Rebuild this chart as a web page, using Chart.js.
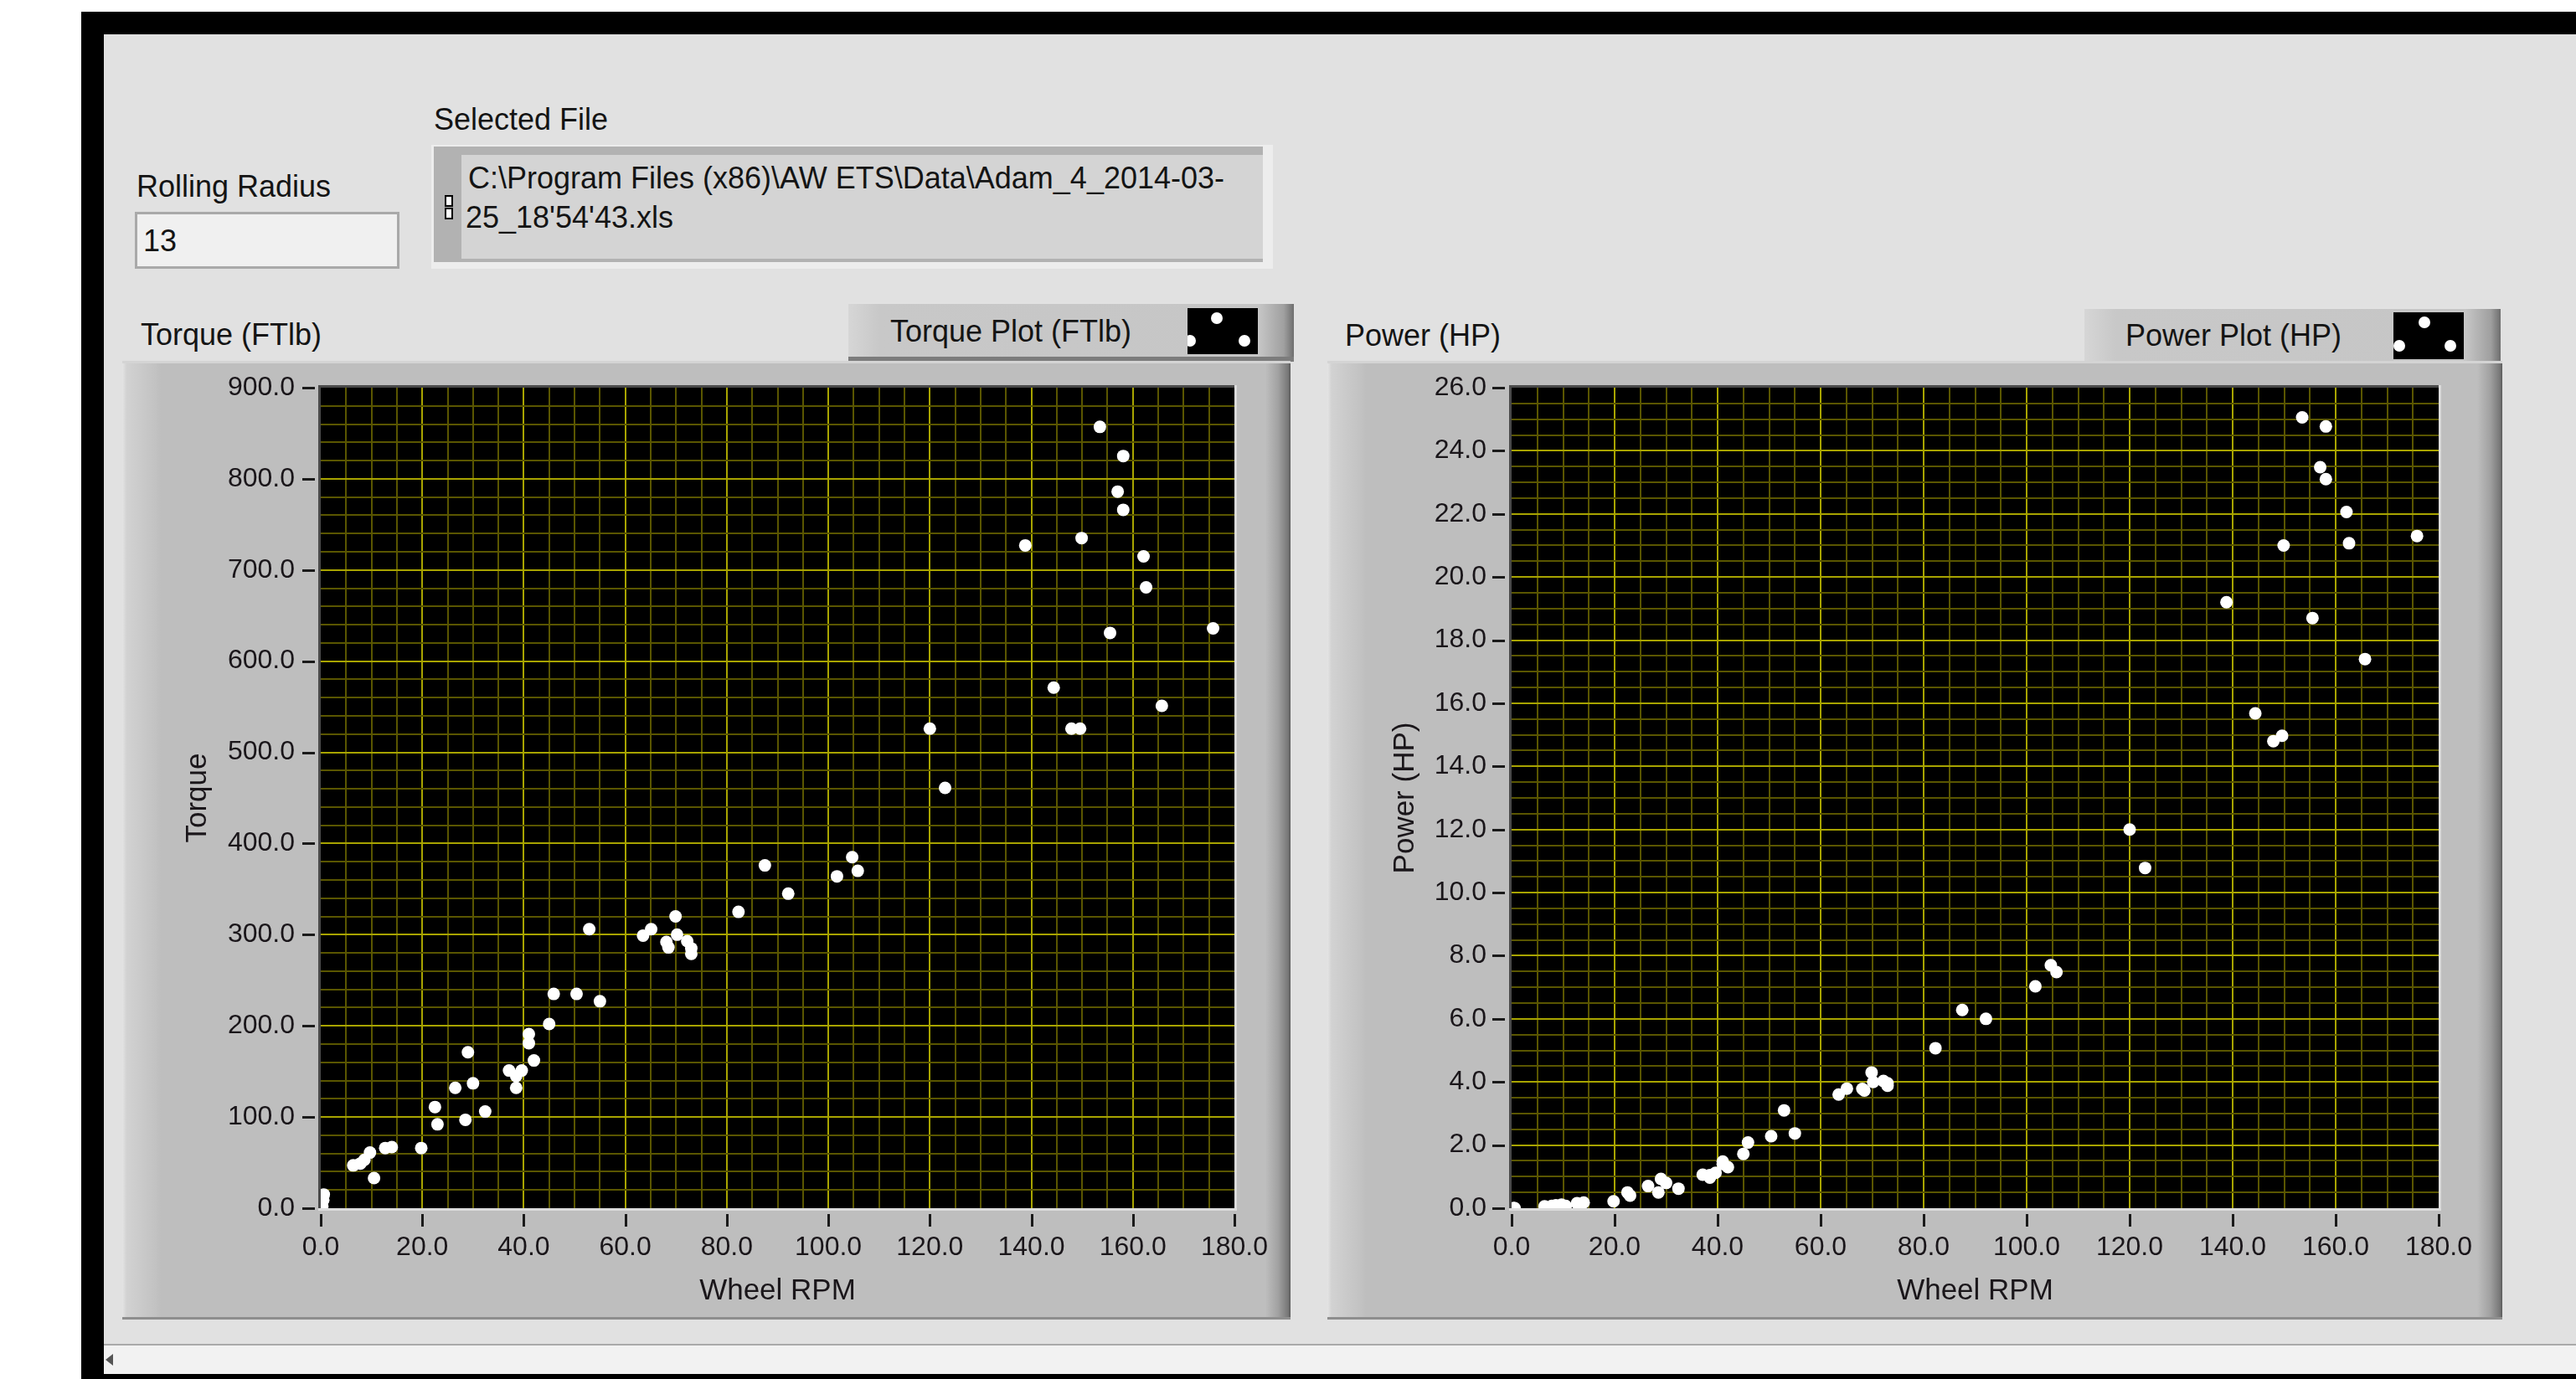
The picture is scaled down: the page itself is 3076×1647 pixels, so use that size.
<!DOCTYPE html>
<html><head><meta charset="utf-8">
<script src="https://cdn.jsdelivr.net/npm/chart.js@4.4.1/dist/chart.umd.min.js"></script>
<style>
html,body{margin:0;padding:0;}
body{width:3076px;height:1647px;position:relative;overflow:hidden;background:#fff;font-family:'Liberation Sans',Arial,sans-serif;color:#141414;}
.abs{position:absolute;}
.lbl{position:absolute;font-size:36px;line-height:36px;white-space:nowrap;}
.frame{position:absolute;box-sizing:border-box;}
.dot{position:absolute;width:14px;height:14px;border-radius:50%;background:#fff;}
</style></head><body>

<!-- window chrome -->
<div class="abs" style="left:97px;top:14px;width:2979px;height:27px;background:#000"></div>
<div class="abs" style="left:97px;top:14px;width:27px;height:1633px;background:#000"></div>
<div class="abs" style="left:124px;top:41px;width:2952px;height:1565px;background:#e1e1e1"></div>
<div class="abs" style="left:124px;top:1605px;width:2952px;height:36px;background:#f2f2f2;border-top:2px solid #a9a9a9;box-sizing:border-box"></div>
<div class="abs" style="left:126px;top:1617px;width:0;height:0;border-top:7px solid transparent;border-bottom:7px solid transparent;border-right:9px solid #555"></div>
<div class="abs" style="left:97px;top:1641px;width:2979px;height:6px;background:#000"></div>

<!-- Rolling radius control -->
<div class="lbl" style="left:163px;top:205px">Rolling Radius</div>
<div class="abs" style="left:161px;top:253px;width:316px;height:68px;background:#f0f0f0;border:3px solid #a9a9a9;box-sizing:border-box"></div>
<div class="lbl" style="left:171px;top:270px">13</div>

<!-- Selected file -->
<div class="lbl" style="left:518px;top:125px">Selected File</div>
<div class="abs" style="left:515px;top:173px;width:1005px;height:148px;background:#ededed"></div>
<div class="abs" style="left:518px;top:175px;width:990px;height:138px;background:#b2b2b2"></div>
<div class="abs" style="left:551px;top:185px;width:957px;height:124px;background:#d4d4d4"></div>
<div class="abs" style="left:531px;top:233px;width:6px;height:10px;background:#fff;border:2px solid #000"></div>
<div class="abs" style="left:531px;top:248px;width:6px;height:10px;background:#fff;border:2px solid #000"></div>
<div class="lbl" style="left:559px;top:195px">C:\Program Files (x86)\AW ETS\Data\Adam_4_2014-03-</div>
<div class="lbl" style="left:556px;top:242px">25_18'54'43.xls</div>

<!-- Torque graph labels & legend -->
<div class="lbl" style="left:168px;top:382px">Torque (FTlb)</div>
<div class="abs" style="left:1013px;top:361px;width:532px;height:71px;background:linear-gradient(to right,#d6d6d6 0px,#c8c8c8 37px,#c6c6c6 490px,#a0a0a0 520px,#6e6e6e 532px);border-bottom:6px solid #7c7c7c;border-top:2px solid #e2e2e2;box-sizing:border-box"></div>
<div class="lbl" style="left:1063px;top:378px">Torque Plot (FTlb)</div>
<div class="abs" style="left:1418px;top:368px;width:84px;height:55px;background:#000;overflow:hidden">
  <div class="dot" style="left:28px;top:5px"></div>
  <div class="dot" style="left:-4px;top:32px"></div>
  <div class="dot" style="left:61px;top:32px"></div>
</div>

<!-- Power graph labels & legend -->
<div class="lbl" style="left:1606px;top:383px">Power (HP)</div>
<div class="abs" style="left:2489px;top:367px;width:497px;height:70px;background:linear-gradient(to right,#d6d6d6 0px,#c8c8c8 37px,#c6c6c6 455px,#a0a0a0 485px,#6e6e6e 497px);border-bottom:6px solid #7c7c7c;border-top:2px solid #e2e2e2;box-sizing:border-box"></div>
<div class="lbl" style="left:2538px;top:383px">Power Plot (HP)</div>
<div class="abs" style="left:2858px;top:373px;width:84px;height:56px;background:#000;overflow:hidden">
  <div class="dot" style="left:30px;top:5px"></div>
  <div class="dot" style="left:0px;top:33px"></div>
  <div class="dot" style="left:61px;top:33px"></div>
</div>

<!-- graph frames -->
<div class="frame" style="left:146px;top:431px;width:1395px;height:1145px;background:linear-gradient(to right,#e4e4e4 0px,#d2d2d2 5px,#c2c2c2 40px,#bebebe 46px,#bebebe 1365px,#a2a2a2 1380px,#787878 1392px,#5a5a5a 1395px);border-top:3px solid #d4d4d4;border-bottom:3px solid #8e8e8e">
  <canvas id="torqueChart" width="1395" height="1145" style="position:absolute;left:0;top:-3px"></canvas>
</div>
<div class="frame" style="left:1585px;top:431px;width:1403px;height:1145px;background:linear-gradient(to right,#e4e4e4 0px,#d2d2d2 5px,#c2c2c2 40px,#bebebe 46px,#bebebe 1373px,#a2a2a2 1388px,#787878 1400px,#5a5a5a 1403px);border-top:3px solid #d4d4d4;border-bottom:3px solid #8e8e8e">
  <canvas id="powerChart" width="1403" height="1145" style="position:absolute;left:0;top:-3px"></canvas>
</div>

<script>
// ---- data ----
const wheelRpm = [0.3,0.5,0.6,6.4,7.8,8.6,9.7,10.5,12.7,14.0,19.8,22.5,23.0,26.5,29.0,30.0,28.5,32.4,37.1,39.6,38.5,38.5,41.0,41.0,42.0,45.0,45.9,50.4,55.0,52.9,63.5,65.1,69.9,68.1,68.5,70.2,72.2,73.0,73.0,82.3,87.5,92.1,101.7,104.7,105.8,120.0,123.0,138.8,144.4,147.9,149.6,149.9,153.5,155.5,157.0,158.1,158.1,162.1,162.6,165.7,175.8];
const torqueFtLb = [2,9,15,47,49,53,61,33,66,67,66,111,92,132,171,137,97,106,151,151,145,132,191,181,162,202,235,235,227,306,299,306,320,292,286,300,293,285,279,325,376,345,364,385,370,526,461,727,571,526,526,735,857,631,786,766,825,715,681,551,636];
const powerHp = [0.0,0.0,0.0,0.06,0.07,0.09,0.11,0.07,0.16,0.18,0.22,0.50,0.40,0.70,0.93,0.80,0.50,0.62,1.06,1.12,1.05,0.97,1.48,1.40,1.30,1.72,2.08,2.28,2.37,3.10,3.60,3.79,4.30,3.78,3.73,4.00,4.03,3.96,3.88,5.07,6.28,6.00,7.03,7.70,7.48,12.00,10.78,19.20,15.68,14.80,14.97,21.00,25.06,18.70,23.48,23.10,24.77,22.06,21.07,17.40,21.30];

// axis ranges / steps
const rpmAxis = [0, 180, 5, 20];        // min, max, minor step, major step
const torqueAxis = [0, 900, 20, 100];
const powerAxis = [0, 26, 0.5, 2];

const FONT = "'Liberation Sans', Arial, sans-serif";
const MAJOR = '#a8a400', MINOR = '#5a5600';
const isMajor = (v, step) => Math.abs(v / step - Math.round(v / step)) < 1e-6;

const lvPlot = {
  id: 'lvPlot',
  beforeDraw(chart) {
    const {ctx, chartArea: a} = chart;
    ctx.save();
    ctx.fillStyle = '#000';
    ctx.fillRect(a.left, a.top, a.right - a.left, a.bottom - a.top);
    ctx.restore();
  },
  afterDraw(chart, args, o) {
    const {ctx, chartArea: a, scales} = chart;
    ctx.save();
    ctx.fillStyle = '#4a4a4a';
    ctx.fillRect(a.left - 3, a.top - 3, a.right - a.left + 3, 3);
    ctx.fillRect(a.left - 3, a.top - 3, 3, a.bottom - a.top + 3);
    ctx.fillStyle = '#dcdcdc';
    ctx.fillRect(a.right, a.top - 3, 3, a.bottom - a.top + 6);
    ctx.fillRect(a.left - 3, a.bottom, a.right - a.left + 6, 3);
    ctx.strokeStyle = '#1a1a1a';
    ctx.lineWidth = 3;
    scales.x.ticks.forEach(t => {
      if (!isMajor(t.value, o.xMajor)) return;
      const px = Math.round(scales.x.getPixelForValue(t.value)) + 0.5;
      ctx.beginPath(); ctx.moveTo(px, a.bottom + 7); ctx.lineTo(px, a.bottom + 22); ctx.stroke();
    });
    scales.y.ticks.forEach(t => {
      if (!isMajor(t.value, o.yMajor)) return;
      const py = Math.round(scales.y.getPixelForValue(t.value)) + 0.5;
      ctx.beginPath(); ctx.moveTo(a.left - o.tickOut, py); ctx.lineTo(a.left - o.tickOut + 15, py); ctx.stroke();
    });
    ctx.restore();
  }
};

function makeChart(id, yVals, yAxis, yTitle, cfg) {
  const [xmin, xmax, xstep, xmaj] = rpmAxis;
  const [ymin, ymax, ystep, ymaj] = yAxis;
  const gridColor = (maj, lo, hi) => ctx => {
    const v = ctx.tick.value;
    if (Math.abs(v - lo) < 1e-6 || Math.abs(v - hi) < 1e-6) return 'rgba(0,0,0,0)';
    return isMajor(v, maj) ? MAJOR : MINOR;
  };
  return new Chart(document.getElementById(id), {
    type: 'scatter',
    data: {
      datasets: [{
        data: wheelRpm.map((x, i) => ({x, y: yVals[i]})),
        pointRadius: 7.5, pointHoverRadius: 7.5,
        pointBackgroundColor: '#ffffff', pointBorderWidth: 0,
        clip: 0
      }]
    },
    options: {
      responsive: false, animation: false, events: [],
      layout: {padding: {left: 0, top: 32, right: cfg.padRight, bottom: 0}},
      plugins: {legend: {display: false}, tooltip: {enabled: false},
                lvPlot: {xMajor: xmaj, yMajor: ymaj, tickOut: cfg.tickOut}},
      scales: {
        x: {
          type: 'linear', min: xmin, max: xmax,
          border: {display: false},
          grid: {color: gridColor(xmaj, xmin, xmax), lineWidth: 2, drawTicks: false},
          ticks: {stepSize: xstep, autoSkip: false, maxRotation: 0, padding: 28,
                  color: '#1a161a', font: {family: FONT, size: 32},
                  callback: v => isMajor(v, xmaj) ? Number(v).toFixed(1) : ''},
          title: {display: true, text: 'Wheel RPM', color: '#1a161a',
                  font: {family: FONT, size: 35}, padding: {top: 0, bottom: 13}},
          afterFit: s => { s.height = 133; s.paddingLeft = 0; s.paddingRight = 0; }
        },
        y: {
          type: 'linear', min: ymin, max: ymax,
          border: {display: false},
          grid: {color: gridColor(ymaj, ymin, ymax), lineWidth: 2, drawTicks: false},
          ticks: {stepSize: ystep, autoSkip: false, padding: cfg.yPad,
                  color: '#1a161a', font: {family: FONT, size: 32},
                  callback: v => isMajor(v, ymaj) ? Number(v).toFixed(1) : ''},
          title: {display: true, text: yTitle, color: '#1a161a',
                  font: {family: FONT, size: 35}, padding: {top: cfg.titlePad, bottom: 0}},
          afterFit: s => { s.width = cfg.left; s.paddingTop = 0; s.paddingBottom = 0; }
        }
      }
    },
    plugins: [lvPlot]
  });
}

makeChart('torqueChart', torqueFtLb, torqueAxis, 'Torque',
          {left: 237, padRight: 67, yPad: 31, titlePad: 69, tickOut: 22});
makeChart('powerChart', powerHp, powerAxis, 'Power (HP)',
          {left: 220, padRight: 76, yPad: 30, titlePad: 72, tickOut: 23});
</script>
</body></html>
